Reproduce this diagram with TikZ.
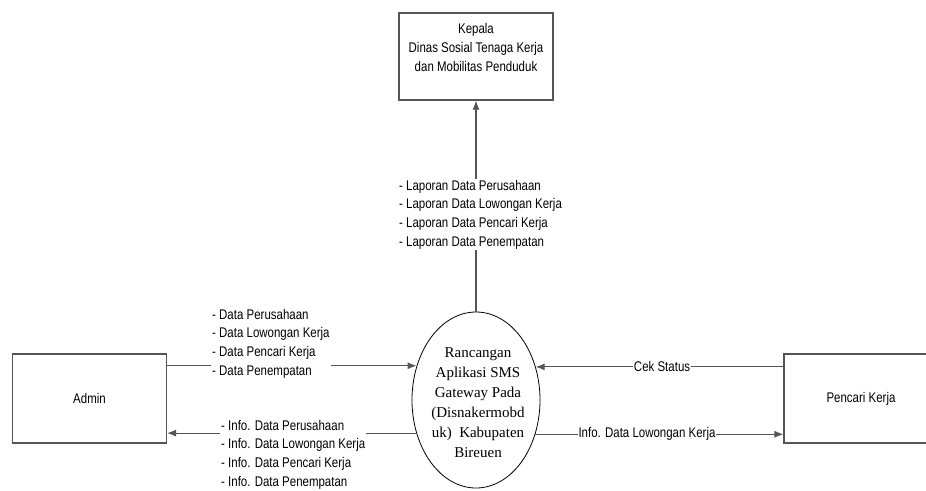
\documentclass[tikz,border=0pt]{standalone}
\usepackage{fontspec}
\setmainfont{Liberation Sans}[FakeStretch=0.82]
\newfontfamily\ellfont{Liberation Serif}
\usetikzlibrary{arrows.meta,shapes.geometric}
\definecolor{linegray}{RGB}{85,85,85}
\begin{document}
\begin{tikzpicture}[x=1pt,y=-1pt,
  txt/.style={font=\fontsize{14}{18.7}\selectfont},
  box/.style={draw=linegray, line width=1.1pt, minimum width=154pt, minimum height=89pt, inner sep=0pt, txt},
  flow/.style={draw=linegray, line width=1.1pt},
  arr/.style={flow, -{Latex[length=9pt,width=7pt]}},
  lbl/.style={fill=white, inner sep=1pt, align=left, txt},
  onlbl/.style={fill=white, inner sep=0.5pt, txt},
  ]
\useasboundingbox (0,0) rectangle (926,490);
% nodes
\node[box, minimum height=87pt] (kep) at (476,56.5) {};
\node[txt, align=center, inner sep=0pt] (keptext) at (476,47.5) {Kepala\\Dinas Sosial Tenaga Kerja\\dan Mobilitas Penduduk};
\node[box] (admin) at (89.5,398.5) {Admin};
\node[box] (pk) at (861,398.5) {Pencari Kerja};
\node[draw=black, line width=0.8pt, ellipse, minimum width=128pt, minimum height=176pt, inner sep=0pt] (ell) at (476,400) {};
\node[align=center, inner sep=0pt, font=\ellfont\fontsize{15}{20}\selectfont] (elltext) at (478,403)
  {Rancangan\\Aplikasi SMS\\Gateway Pada\\(Disnakermobd\\uk)~ Kabupaten\\Bireuen};
% connectors
\draw[arr] (ell.north) -- (kep.south);
\node[lbl, anchor=west] (lapor) at (398,214.5) {- Laporan Data Perusahaan\\- Laporan Data Lowongan Kerja\\- Laporan Data Pencari Kerja\\- Laporan Data Penempatan};
\draw[arr] (admin.east |- ell.150.8) -- (ell.150.8);
\node[lbl, anchor=west] (datain) at (211,343.5) {- Data Perusahaan\\- Data Lowongan Kerja\\- Data Pencari Kerja\\- Data Penempatan};
\draw[arr] (ell.209.2) -- (admin.east |- ell.209.2);
\node[lbl, anchor=west] (infoout) at (220,454.5) {- Info. Data Perusahaan\\- Info. Data Lowongan Kerja\\- Info. Data Pencari Kerja\\- Info. Data Penempatan};
\draw[arr] (pk.west |- ell.29.2) -- (ell.29.2) node[onlbl, pos=0.49] (cek) {Cek Status};
\draw[arr] (ell.330.8) -- (pk.west |- ell.330.8) node[onlbl, pos=0.45] (infolk) {Info. Data Lowongan Kerja};
\end{tikzpicture}
\end{document}
